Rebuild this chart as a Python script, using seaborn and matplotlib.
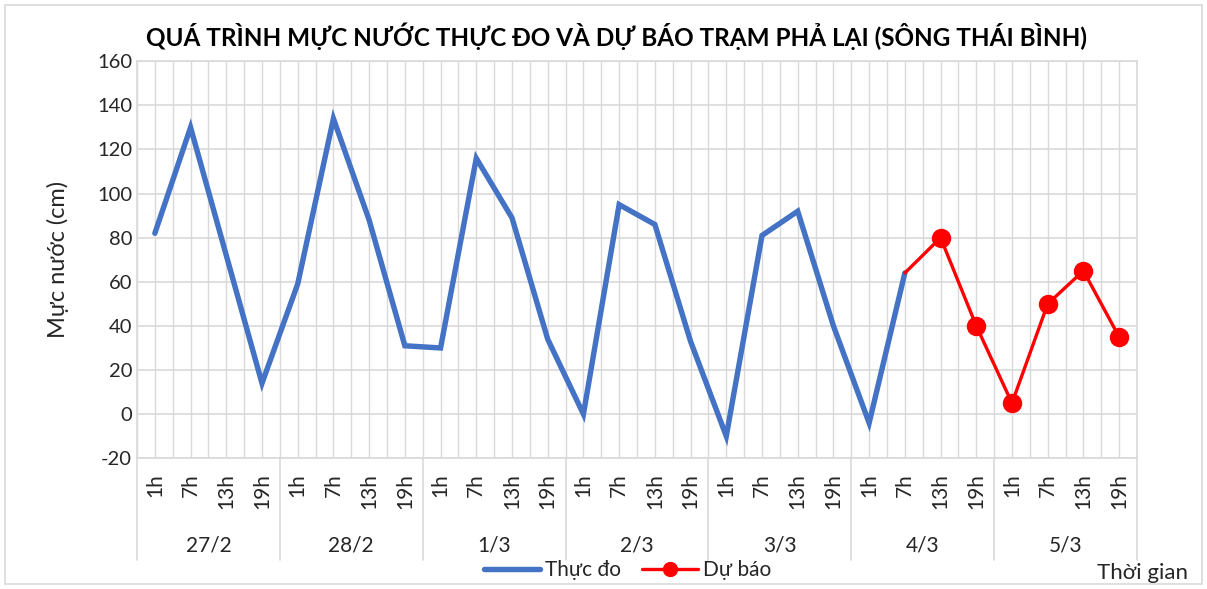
# Water level chart - Pha Lai station (Thai Binh river)
# observed vs forecast, 6-hourly

import numpy as np
import pandas as pd
import matplotlib.pyplot as plt
import seaborn as sns
from matplotlib.lines import Line2D
from matplotlib.patches import Rectangle
import matplotlib.transforms as mtransforms

days = ["27/2", "28/2", "1/3", "2/3", "3/3", "4/3", "5/3"]
hours = ["1h", "7h", "13h", "19h"]

# observed levels (cm), from 27/2 1h to 4/3 7h
observed = [82, 130, 72, 14,
            59, 134, 88, 31,
            30, 116, 89, 34,
            0, 95, 86, 33,
            -10, 81, 92, 40,
            -4, 64]
# forecast starts at the last observed point (4/3 7h)
forecast = [64, 80, 40, 5, 50, 65, 35]

tick_labels = [h for d in days for h in hours]
n = len(tick_labels)

obs_df = pd.DataFrame({"pos": np.arange(len(observed)), "level": observed})
fc_start = len(observed) - 1
fc_df = pd.DataFrame({"pos": np.arange(fc_start, fc_start + len(forecast)),
                      "level": forecast})

sns.set_style("white")
plt.rcParams["font.family"] = ["Lato", "DejaVu Sans"]
plt.rcParams["axes.unicode_minus"] = False

blue = "#4472C4"
red = "#FF0000"
grid_c = "#d9d9d9"
txt_c = "#262626"

fig = plt.figure(figsize=(12.07, 5.89), dpi=100)
ax = fig.add_axes([0.1135, 0.222, 0.8285, 0.674])

sns.lineplot(data=obs_df, x="pos", y="level", color=blue, lw=3.9, ax=ax,
             solid_joinstyle="miter")
sns.lineplot(data=fc_df, x="pos", y="level", color=red, lw=2.4, ax=ax,
             marker="o", markersize=14, markeredgewidth=0,
             markevery=list(range(1, len(forecast))))

ax.set_xlim(-0.5, n - 0.5)
ax.set_ylim(-20, 160)
ax.set_yticks(np.arange(-20, 161, 20))
ax.set_xticks(np.arange(n))
ax.set_xticklabels(tick_labels, rotation=90)
ax.set_xticks(np.arange(-0.5, n, 0.5), minor=True)
ax.tick_params(axis="both", length=0, labelsize=14.5, colors=txt_c)
ax.tick_params(axis="x", labelsize=15, pad=11)
ax.tick_params(axis="x", which="minor", length=0)
ax.grid(True, axis="y", color=grid_c, lw=1.2)
ax.grid(True, axis="x", which="both", color=grid_c, lw=1)
ax.set_axisbelow(True)
for s in ax.spines.values():
    s.set_color(grid_c)
    s.set_linewidth(1.2)

ax.set_xlabel("")
ax.set_ylabel("Mực nước (cm)", fontsize=17, color=txt_c, labelpad=20)

# second level of the category axis: day labels and separators
trans = mtransforms.blended_transform_factory(ax.transData, ax.transAxes)
for i, d in enumerate(days):
    ax.text(i * 4 + 1.5, -0.219, d, transform=trans, ha="center", va="center",
            fontsize=15, color=txt_c)
for b in np.arange(-0.5, n, 4):
    ax.plot([b, b], [0, -0.257], transform=trans, color=grid_c, lw=1.2,
            clip_on=False)

fig.suptitle("QUÁ TRÌNH MỰC NƯỚC THỰC ĐO VÀ DỰ BÁO TRẠM PHẢ LẠI (SÔNG THÁI BÌNH)",
             x=0.511, y=0.962, fontsize=17.5, fontweight="bold", color="black")

handles = [Line2D([], [], color=blue, lw=3.9),
           Line2D([], [], color=red, lw=2.4, marker="o", markersize=10)]
fig.legend(handles, ["Thực đo", "Dự báo"], loc="center", ncol=2,
           bbox_to_anchor=(0.52, 0.032), frameon=False, fontsize=15,
           handlelength=2.7, handletextpad=0.25, columnspacing=1.0,
           labelcolor=txt_c)

fig.text(0.984, 0.028, "Thời gian", ha="right", va="center", fontsize=16,
         color=txt_c)

fig.patches.append(Rectangle((0.004, 0.008), 0.992, 0.984, transform=fig.transFigure,
                             fill=False, edgecolor=grid_c, lw=1.2))

plt.savefig("out.png", dpi=100)
